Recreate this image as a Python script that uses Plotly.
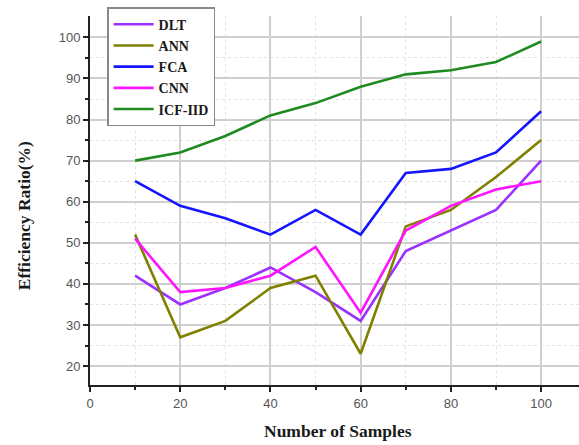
import plotly.graph_objects as go

samples = [10, 20, 30, 40, 50, 60, 70, 80, 90, 100]
dlt = [42, 35, 39, 44, 38, 31, 48, 53, 58, 70]
ann = [52, 27, 31, 39, 42, 23, 54, 58, 66, 75]
fca = [65, 59, 56, 52, 58, 52, 67, 68, 72, 82]
cnn = [51, 38, 39, 42, 49, 33, 53, 59, 63, 65]
icf_iid = [70, 72, 76, 81, 84, 88, 91, 92, 94, 99]

series = [
    ("DLT", dlt, "#9b30ff"),
    ("ANN", ann, "#808000"),
    ("FCA", fca, "#1414ff"),
    ("CNN", cnn, "#ff14ff"),
    ("ICF-IID", icf_iid, "#1f8a1f"),
]

fig = go.Figure()
for name, vals, color in series:
    fig.add_trace(go.Scatter(
        x=samples, y=vals, name=f"<b>{name}</b>", mode="lines",
        line=dict(color=color, width=2.6),
    ))

title_font = dict(family="Liberation Serif", size=17.5, color="#1a1a1a")
tick_font = dict(family="Liberation Sans", size=13, color="#555555")

axis_common = dict(
    showline=True, linecolor="#222222", linewidth=2,
    ticks="outside", ticklen=5, tickwidth=2, tickcolor="#222222",
    showgrid=True, gridcolor="#cfcfcf", gridwidth=1.5,
    zeroline=False, tickfont=tick_font,
)

fig.update_xaxes(
    range=[0, 108.4], tickvals=[0, 20, 40, 60, 80, 100],
    minor=dict(tickvals=[10, 30, 50, 70, 90], ticks="outside", ticklen=3,
               tickwidth=2, tickcolor="#222222",
               showgrid=True, gridcolor="#e2e2e2", griddash="dot", gridwidth=1),
    **axis_common,
)
fig.update_yaxes(
    range=[15.4, 105.2], tickvals=[20, 30, 40, 50, 60, 70, 80, 90, 100],
    minor=dict(tickvals=[25, 35, 45, 55, 65, 75, 85, 95], ticks="outside",
               ticklen=3, tickwidth=2, tickcolor="#222222",
               showgrid=True, gridcolor="#e2e2e2", griddash="dot", gridwidth=1),
    **axis_common,
)

# axis titles placed as annotations in paper coordinates
fig.add_annotation(
    text="<b>Number of Samples</b>", font=title_font, showarrow=False,
    xref="paper", yref="paper", x=0.508, y=-0.125,
    xanchor="center", yanchor="middle",
)
fig.add_annotation(
    text="<b>Efficiency Ratio(%)</b>", font=title_font, showarrow=False,
    textangle=-90, xref="paper", yref="paper", x=-0.135, y=0.46,
    xanchor="center", yanchor="middle",
)

fig.update_layout(
    width=579, height=445,
    margin=dict(l=90, r=0, t=16, b=60),
    paper_bgcolor="white", plot_bgcolor="white",
    legend=dict(
        x=0.035, y=1.024, xanchor="left", yanchor="top",
        bgcolor="white", bordercolor="#888888", borderwidth=1.5,
        font=dict(family="Liberation Serif", size=14, color="#1a1a1a"),
        itemwidth=40, tracegroupgap=0,
    ),
    showlegend=True,
)

fig.write_html("out.html")
